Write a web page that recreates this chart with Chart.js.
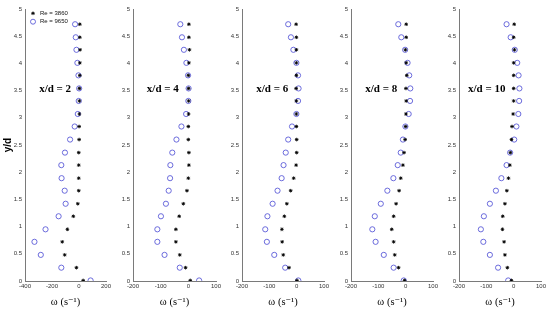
<!DOCTYPE html>
<html><head><meta charset="utf-8">
<script src="https://cdn.jsdelivr.net/npm/chart.js@4/dist/chart.umd.min.js"></script>
<style>
html,body{margin:0;padding:0;background:#fff;width:550px;height:313px;overflow:hidden}
#wrap{position:relative;width:550px;height:313px}
canvas{position:absolute;top:0}
</style></head><body>
<div id="wrap"></div>
<script>
// y/d levels (bottom to top)
const yLevels = [0.01,0.245,0.48,0.72,0.95,1.19,1.42,1.66,1.89,2.13,2.36,2.60,2.84,3.07,3.31,3.54,3.78,4.01,4.25,4.48,4.72];
const panelNames = ['x/d = 2','x/d = 4','x/d = 6','x/d = 8','x/d = 10'];
const seriesNames = ['Re = 3860','Re = 9650'];
// omega values (s^-1), bottom to top, Re = 3860
const re3860_xd2  = [31,-19,-106,-124,-86,-42,-9,-2,-2,-2,-2,1,1,3,3,3,6,6,8,6,6];
const re3860_xd4  = [7,-10,-31,-45,-45,-33,-18,-5,0,2,2,0,0,1,1,1,0,2,4,2,2];
const re3860_xd6  = [1,-28,-49,-53,-54,-45,-36,-22,-11,-2,0,0,-1,-1,-1,-2,-1,-1,-1,-1,-2];
const re3860_xd8  = [-4,-26,-40,-44,-51,-44,-35,-24,-18,-10,-6,-2,0,1,2,1,4,2,-1,2,2];
const re3860_xd10 = [-8,-23,-32,-35,-41,-40,-32,-25,-19,-14,-12,-8,-6,-2,0,0,0,0,3,0,2];
// Re = 9650
const re9650_xd2  = [86,-131,-283,-330,-248,-151,-99,-106,-129,-131,-104,-66,-32,-9,-2,1,-4,-12,-19,-24,-29];
const re9650_xd4  = [39,-31,-86,-112,-112,-99,-81,-71,-66,-65,-58,-43,-25,-8,0,1,-1,-7,-16,-23,-29];
const re9650_xd6  = [6,-42,-82,-109,-115,-107,-88,-70,-55,-48,-40,-31,-17,-1,5,7,5,-1,-12,-21,-31];
const re9650_xd8  = [-7,-44,-80,-110,-122,-113,-91,-67,-45,-29,-18,-10,-1,11,16,17,13,7,-2,-16,-27];
const re9650_xd10 = [-20,-57,-87,-111,-120,-109,-87,-65,-45,-26,-13,2,10,17,20,21,18,13,4,-11,-26];
// axis ranges / ticks
const xMins = [-400,-200,-200,-200,-200];
const xMaxs = [200,100,100,100,100];
const xSteps = [200,100,100,100,100];

const lowSeries = [re3860_xd2,re3860_xd4,re3860_xd6,re3860_xd8,re3860_xd10];
const highSeries = [re9650_xd2,re9650_xd4,re9650_xd6,re9650_xd8,re9650_xd10];

// layout (pixel positions of each panel's plot area)
const axisLeft = [25,133,242,351,459];
const axisRight = [106,216,324,433,541];
const labelPos = [[-295,3.52],[-150,3.52],[-148,3.52],[-148,3.52],[-167,3.52]];

const tickFont = {size:6, family:'"Liberation Sans", Arial, sans-serif'};

const labelPlugin = {
  id:'panelLabel',
  afterDatasetsDraw(chart, args, opts){
    const ctx = chart.ctx;
    const xs = chart.scales.x, ys = chart.scales.y;
    ctx.save();
    ctx.fillStyle = '#000';
    ctx.font = 'bold 11px "Liberation Serif", "Times New Roman", serif';
    ctx.textAlign = 'left';
    ctx.textBaseline = 'middle';
    ctx.fillText(opts.text, xs.getPixelForValue(opts.pos[0]), ys.getPixelForValue(opts.pos[1]));
    if (opts.legend) {
      const ca = chart.chartArea;
      const mx = ca.left + 8, y1 = ca.top + 4.3, y2 = ca.top + 12.7;
      // asterisk marker
      ctx.strokeStyle = '#000'; ctx.lineWidth = 0.9;
      const r = 1.8;
      ctx.beginPath();
      ctx.moveTo(mx - r, y1); ctx.lineTo(mx + r, y1);
      ctx.moveTo(mx, y1 - r); ctx.lineTo(mx, y1 + r);
      ctx.moveTo(mx - r*0.7, y1 - r*0.7); ctx.lineTo(mx + r*0.7, y1 + r*0.7);
      ctx.moveTo(mx - r*0.7, y1 + r*0.7); ctx.lineTo(mx + r*0.7, y1 - r*0.7);
      ctx.stroke();
      ctx.strokeStyle = '#5b5bd8'; ctx.lineWidth = 0.9;
      ctx.beginPath(); ctx.arc(mx, y2, 2.5, 0, Math.PI*2); ctx.stroke();
      ctx.fillStyle = '#111';
      ctx.font = '6px "Liberation Sans", Arial, sans-serif';
      ctx.fillText(seriesNames[0], ca.left + 15, y1);
      ctx.fillText(seriesNames[1], ca.left + 15, y2);
    }
    ctx.restore();
  }
};

const wrap = document.getElementById('wrap');
for (let i = 0; i < 5; i++) {
  const W = i === 0 ? 25 : 20;
  const padR = 9;
  const plotW = axisRight[i] - axisLeft[i];
  const cw = W + plotW + padR;
  const cv = document.createElement('canvas');
  cv.width = cw; cv.height = 313;
  cv.style.left = (axisLeft[i] - W) + 'px';
  cv.style.width = cw + 'px'; cv.style.height = '313px';
  wrap.appendChild(cv);
  new Chart(cv, {
    type: 'scatter',
    data: {
      datasets: [
        {label: seriesNames[0], data: yLevels.map((y,k)=>({x: lowSeries[i][k], y})),
         pointStyle:'star', pointRadius:1.8, borderColor:'#000', backgroundColor:'#000', borderWidth:0.9},
        {label: seriesNames[1], data: yLevels.map((y,k)=>({x: highSeries[i][k], y})),
         pointStyle:'circle', pointRadius:2.6, borderColor:'#5b5bd8', backgroundColor:'rgba(0,0,0,0)', borderWidth:0.9}
      ]
    },
    options: {
      responsive:false, animation:false, devicePixelRatio:1,
      layout:{padding:{top:9, right:padR, left:0, bottom:0}},
      plugins:{legend:{display:false}, tooltip:{enabled:false},
        panelLabel:{text: panelNames[i], pos: labelPos[i], legend: i === 0}},
      scales:{
        x:{type:'linear', min:xMins[i], max:xMaxs[i],
           ticks:{stepSize:xSteps[i], font:tickFont, color:'#333', padding:2, maxRotation:0, autoSkip:false, callback:v=>String(v)},
           grid:{display:false, drawTicks:false},
           border:{color:'#7a7a7a', width:1},
           title:{display:true, text:'ω (s⁻¹)', color:'#000', font:{size:10.5, family:'"Liberation Serif", "DejaVu Serif", serif'}, padding:{top:4,bottom:4}},
           afterFit(s){ s.height = 32; }},
        y:{type:'linear', min:0, max:5,
           ticks:{stepSize:0.5, font:tickFont, color:'#333', padding:3, callback:v=>String(v)},
           grid:{display:false, drawTicks:false},
           border:{color:'#7a7a7a', width:1},
           title: i === 0 ? {display:true, text:'y/d', color:'#000', font:{size:10, weight:'bold', family:'"Liberation Sans", Arial, sans-serif'}, padding:{top:2,bottom:0}} : {display:false},
           afterFit(s){ s.width = W; }}
      }
    },
    plugins:[labelPlugin]
  });
}
</script>
</body></html>
